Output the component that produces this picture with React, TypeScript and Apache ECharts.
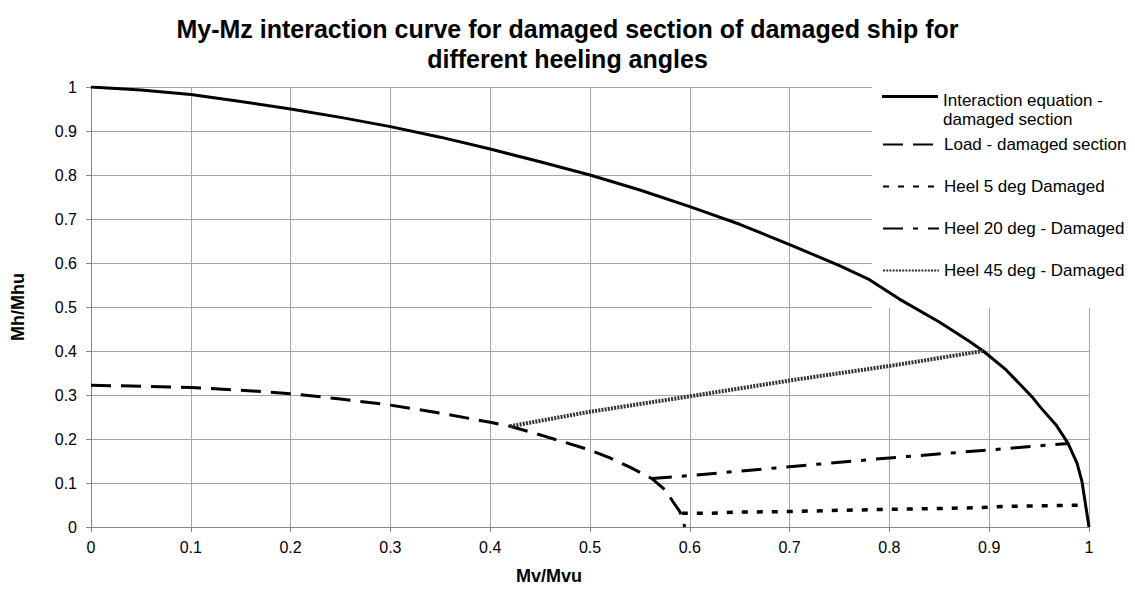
import React, { useEffect, useRef } from "react";
import * as echarts from "echarts";

const titleText =
  "My-Mz interaction curve for damaged section of damaged ship for\ndifferent heeling angles";
const xAxisTitle = "Mv/Mvu";
const yAxisTitle = "Mh/Mhu";
const xTickLabels = ["0", "0.1", "0.2", "0.3", "0.4", "0.5", "0.6", "0.7", "0.8", "0.9", "1"];
const yTickLabels = ["0", "0.1", "0.2", "0.3", "0.4", "0.5", "0.6", "0.7", "0.8", "0.9", "1"];

const seriesNames = [
  "Interaction equation -\ndamaged section",
  "Load - damaged section",
  "Heel 5 deg Damaged",
  "Heel 20 deg - Damaged",
  "Heel 45 deg - Damaged",
];

const interactionCurve: [number, number][] = [
  [0, 1], [0.05, 0.993], [0.1, 0.983], [0.15, 0.967], [0.2, 0.95], [0.25, 0.931],
  [0.3, 0.91], [0.35, 0.886], [0.4, 0.859], [0.45, 0.83], [0.5, 0.8], [0.55, 0.766],
  [0.6, 0.728], [0.65, 0.688], [0.7, 0.642], [0.75, 0.594], [0.78, 0.562], [0.81, 0.518],
  [0.85, 0.466], [0.88, 0.422], [0.894, 0.4], [0.917, 0.357], [0.944, 0.293],
  [0.951, 0.273], [0.967, 0.232], [0.979, 0.19], [0.988, 0.145], [0.993, 0.103], [1, 0],
];

const loadCurve: [number, number][] = [
  [0, 0.322], [0.05, 0.32], [0.1, 0.317], [0.15, 0.311], [0.2, 0.303], [0.25, 0.291],
  [0.3, 0.277], [0.35, 0.259], [0.4, 0.238], [0.42, 0.229], [0.455, 0.206], [0.5, 0.175],
  [0.52, 0.157], [0.54, 0.136], [0.562, 0.11], [0.575, 0.085], [0.583, 0.058],
  [0.59, 0.035], [0.595, 0],
];

const heel5: [number, number][] = [
  [0.592, 0.031], [0.62, 0.031], [0.65, 0.034], [0.7, 0.035], [0.75, 0.038],
  [0.8, 0.04], [0.85, 0.042], [0.89, 0.044], [0.92, 0.047], [0.997, 0.05],
];

const heel20: [number, number][] = [
  [0.562, 0.11], [0.6, 0.117], [0.7, 0.137], [0.8, 0.157], [0.9, 0.175], [0.979, 0.19],
];

const heel45: [number, number][] = [
  [0.42, 0.229], [0.5, 0.262], [0.6, 0.297], [0.7, 0.333], [0.8, 0.366], [0.894, 0.4],
];

const FONT = "'Liberation Sans', Arial, sans-serif";

// legend icon for the two-line entry: a 3px bar aligned with the first text line
const firstLegendIcon = "path://M0,8L56,8L56,11L0,11ZM0,38L0.001,38Z";

export default function App() {
  const ref = useRef<HTMLDivElement>(null);

  useEffect(() => {
    if (!ref.current) return;
    const chart = echarts.init(ref.current, undefined, { renderer: "svg" });

    const mkSeries = (
      name: string,
      data: [number, number][],
      lineStyle: any,
      itemColor: string
    ) => ({
      name,
      type: "line",
      data,
      symbol: "none",
      showSymbol: false,
      z: 3,
      lineStyle: { color: "#000", ...lineStyle },
      itemStyle: { color: itemColor },
      emphasis: { disabled: true },
    });

    const legendText = { fontSize: 17, color: "#000", fontFamily: FONT, lineHeight: 19 };

    chart.setOption({
      animation: false,
      backgroundColor: "#fff",
      title: {
        text: titleText,
        left: "center",
        top: 9,
        textStyle: {
          fontSize: 25,
          fontWeight: "bold",
          color: "#000",
          fontFamily: FONT,
          lineHeight: 30,
        },
      },
      grid: { left: 91, right: 46, top: 87, bottom: 65, containLabel: false },
      xAxis: {
        type: "value",
        min: 0,
        max: 1,
        interval: 0.1,
        name: xAxisTitle,
        nameLocation: "middle",
        nameGap: 40,
        nameTextStyle: {
          fontSize: 18,
          fontWeight: "bold",
          color: "#000",
          fontFamily: FONT,
          padding: [0, 82, 0, 0],
        },
        axisLine: { show: true, lineStyle: { color: "#868686", width: 1 } },
        axisTick: { show: true, length: 5, lineStyle: { color: "#868686" } },
        axisLabel: {
          fontSize: 16,
          color: "#000",
          fontFamily: FONT,
          margin: 12,
          formatter: (v: number) => xTickLabels[Math.round(v * 10)],
        },
        splitLine: { show: true, lineStyle: { color: "#a6a6a6", width: 1 } },
      },
      yAxis: {
        type: "value",
        min: 0,
        max: 1,
        interval: 0.1,
        name: yAxisTitle,
        nameLocation: "middle",
        nameRotate: 90,
        nameGap: 64,
        nameTextStyle: { fontSize: 18, fontWeight: "bold", color: "#000", fontFamily: FONT },
        axisLine: { show: true, lineStyle: { color: "#868686", width: 1 } },
        axisTick: { show: true, length: 5, lineStyle: { color: "#868686" } },
        axisLabel: {
          fontSize: 16,
          color: "#000",
          fontFamily: FONT,
          margin: 14,
          formatter: (v: number) => yTickLabels[Math.round(v * 10)],
        },
        splitLine: { show: true, lineStyle: { color: "#a6a6a6", width: 1 } },
      },
      legend: [
        {
          orient: "vertical",
          left: 882,
          top: 91,
          itemWidth: 56,
          itemHeight: 38,
          padding: 0,
          selectedMode: false,
          z: 4,
          textStyle: legendText,
          data: [{ name: seriesNames[0], icon: firstLegendIcon }],
        },
        {
          orient: "vertical",
          left: 882,
          top: 135,
          itemWidth: 56,
          itemHeight: 14,
          itemGap: 23,
          padding: 0,
          selectedMode: false,
          z: 4,
          itemStyle: { opacity: 0 },
          textStyle: legendText,
          data: seriesNames.slice(1),
        },
      ],
      graphic: [
        {
          type: "rect",
          z: 1,
          silent: true,
          shape: { x: 872, y: 78, width: 263, height: 230 },
          style: { fill: "#fff" },
        },
      ],
      series: [
        mkSeries(seriesNames[0], interactionCurve, { width: 3, type: "solid" }, "#000"),
        mkSeries(seriesNames[1], loadCurve, { width: 3, type: [20, 10] }, "rgba(0,0,0,0)"),
        mkSeries(seriesNames[2], heel5, { width: 3.5, type: [6, 9] }, "rgba(0,0,0,0)"),
        mkSeries(seriesNames[3], heel20, { width: 3, type: [20, 10, 5, 10] }, "rgba(0,0,0,0)"),
        mkSeries(
          seriesNames[4],
          heel45,
          { width: 4, type: [2, 1.2], color: "#333" },
          "rgba(0,0,0,0)"
        ),
      ],
    });

    return () => chart.dispose();
  }, []);

  return (
    <div
      ref={ref}
      style={{ position: "fixed", left: 0, top: 0, width: 1135, height: 592 }}
    />
  );
}
